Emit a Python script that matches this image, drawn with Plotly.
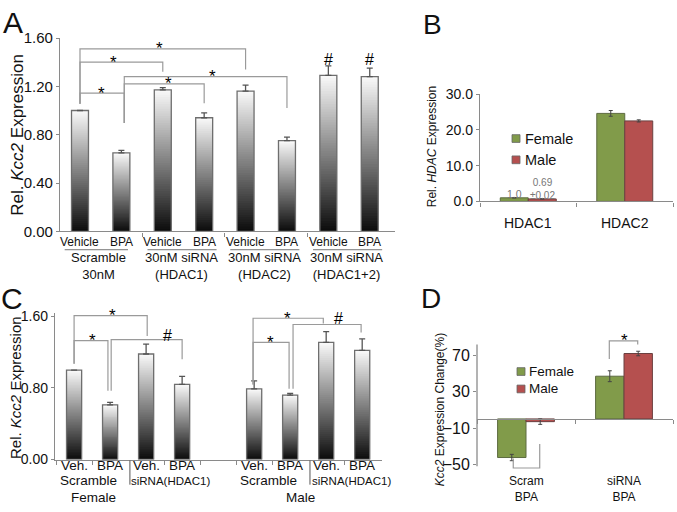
import plotly.graph_objects as go

W, H = 677, 512

# ---- panel A : Kcc2 expression after siRNA knock-down
a_labels = ["Vehicle", "BPA"] * 4
a_groups = [("Scramble", "30nM"), ("30nM siRNA", "(HDAC1)"),
            ("30nM siRNA", "(HDAC2)"), ("30nM siRNA", "(HDAC1+2)")]
a_values = [1.00, 0.65, 1.17, 0.94, 1.16, 0.75, 1.29, 1.28]
a_errors = [0.00, 0.02, 0.02, 0.04, 0.05, 0.03, 0.08, 0.07]

# ---- panel B : HDAC expression by sex
b_genes = ["HDAC1", "HDAC2"]
b_female = [1.0, 24.6]
b_male = [0.69, 22.5]
b_female_err = [0.05, 0.8]
b_male_err = [0.02, 0.3]

# ---- panel C : Kcc2 expression by sex
c_positions = [0, 1, 2, 3, 5, 6, 7, 8]
c_labels = ["Veh.", "BPA"] * 4
c_values = [1.00, 0.61, 1.18, 0.84, 0.79, 0.72, 1.31, 1.22]
c_errors = [0.00, 0.03, 0.11, 0.09, 0.09, 0.02, 0.12, 0.13]

# ---- panel D : Kcc2 expression change
d_groups = [("Scram", "BPA"), ("siRNA", "BPA")]
d_female = [-42.5, 47.0]
d_male = [-3.0, 72.0]
d_female_err = [3.5, 6.0]
d_male_err = [3.0, 2.5]

GREEN = "#819b4a"
RED = "#b5504f"
AXIS = "#8a8a8a"
BRACKET = "#9a9a9a"
FONT = "Liberation Sans, Arial, sans-serif"


def px(x):
    return x / W


def py(y):
    return 1 - y / H


fig = go.Figure()


def gradient_bars(xs, values, errors, xa, ya, width, n=60):
    # white at the top, black at the bottom of every bar
    for k in range(n):
        shade = int(12 + 238 * (k + 0.5) / n)
        step = 2 if k < n - 1 else 1  # overlap the next slice to avoid seams
        fig.add_trace(go.Bar(
            x=xs, y=[v / n * step for v in values],
            base=[v * k / n for v in values], width=width,
            marker=dict(color=f"rgb({shade},{shade},{shade})", line_width=0),
            xaxis=xa, yaxis=ya, showlegend=False, hoverinfo="skip"))
    fig.add_trace(go.Bar(
        x=xs, y=values, width=width,
        marker=dict(color="rgba(0,0,0,0)", line=dict(color="#6e6e6e", width=1.3)),
        error_y=dict(type="data", array=errors, symmetric=False,
                     arrayminus=[0] * len(errors), color="#555", thickness=1.3, width=3),
        xaxis=xa, yaxis=ya, showlegend=False, hoverinfo="skip"))


def bracket(xr, yr, x0, x1, ytop, y0, y1):
    fig.add_shape(type="path", xref=xr, yref=yr,
                  path=f"M {x0},{y0} L {x0},{ytop} L {x1},{ytop} L {x1},{y1}",
                  line=dict(color=BRACKET, width=1.2))


def text(x, y, s, size, xref="paper", yref="paper", color="#111", **kw):
    kw.setdefault("xanchor", "center")
    kw.setdefault("yanchor", "middle")
    fig.add_annotation(x=x, y=y, xref=xref, yref=yref, text=s, showarrow=False,
                       font=dict(size=size, color=color, family=FONT), **kw)


def star(x, y, xr, yr, s="*", size=17):
    text(x, y, s, size, xref=xr, yref=yr, color="#000")


# ================= A =================
gradient_bars(list(range(len(a_values))), a_values, a_errors, "x", "y", 0.41)
for i, lab in enumerate(a_labels):
    text(i, py(241), lab, 12, xref="x")
for g, (l1, l2) in enumerate(a_groups):
    text(2 * g + 0.45, py(266), f"{l1}<br>{l2}", 13, xref="x")
    fig.add_shape(type="line", xref="x", yref="paper", x0=2 * g - 0.37,
                  x1=2 * g + (1.16 if g == 0 else 1.3), y0=py(249), y1=py(249),
                  line=dict(color="#777", width=1))
bracket("x", "y", 0, 1.07, 1.144, 1.056, 0.896)
bracket("x", "y", 0, 2, 1.40, 1.056, 1.32)
bracket("x", "y", 0, 4, 1.51, 1.056, 1.34)
bracket("x", "y", 1.07, 3, 1.22, 0.896, 1.06)
bracket("x", "y", 1.07, 5, 1.28, 0.896, 1.02)
star(0.53, 1.144, "x", "y")
star(0.82, 1.40, "x", "y")
star(1.93, 1.51, "x", "y")
star(2.15, 1.22, "x", "y")
star(3.19, 1.28, "x", "y")
star(6, 1.42, "x", "y", "#", 16)
star(7, 1.42, "x", "y", "#", 16)
text(px(18), py(130), "Rel. <i>Kcc2</i> Expression", 17, textangle=-90)
text(px(13), py(14), "A", 30)

# ================= B =================
fig.add_trace(go.Bar(x=[0, 1], y=b_female, width=0.29, offset=-0.29,
                     marker=dict(color=GREEN, line=dict(color="#5d6b40", width=1)),
                     error_y=dict(type="data", array=b_female_err, color="#444", thickness=1, width=2),
                     xaxis="x2", yaxis="y2", showlegend=False))
fig.add_trace(go.Bar(x=[0, 1], y=b_male, width=0.29, offset=0,
                     marker=dict(color=RED, line=dict(color="#6b4040", width=1)),
                     error_y=dict(type="data", array=b_male_err, color="#444", thickness=1, width=2),
                     xaxis="x2", yaxis="y2", showlegend=False))
for i, g in enumerate(b_genes):
    text(i, py(221), g, 14, xref="x2")
text(-0.145, py(191), f"{b_female[0]:.1f}", 10.5, xref="x2", color="#777")
text(0.145, py(186), f"{b_male[0]:.2f}<br>±{b_male_err[0]:.2f}", 10, xref="x2", color="#777")
for j, (name, col) in enumerate([("Female", GREEN), ("Male", RED)]):
    yc = 134 + 22 * j
    fig.add_shape(type="rect", xref="paper", yref="paper", x0=px(512), x1=px(520),
                  y0=py(yc - 4), y1=py(yc + 4), fillcolor=col, line=dict(color="#666", width=0.8))
    text(px(523), py(yc), name, 14.5, xanchor="left")
text(px(432), py(143), "Rel. <i>HDAC</i> Expression", 12, textangle=-90)
text(px(432), py(16), "B", 28)

# ================= C =================
gradient_bars(c_positions, c_values, c_errors, "x3", "y3", 0.42)
for p, lab in zip(c_positions, c_labels):
    text(p, py(472), lab, 13.5, xref="x3")
for off, sex, sx in [(0, "Female", 0.53), (5, "Male", 6.28)]:
    text(off + 0.39, py(488), "Scramble", 13.5, xref="x3")
    text(off + 2.69, py(488), "siRNA(HDAC1)", 11.5, xref="x3")
    text(sx, py(505), sex, 13.5, xref="x3")
    fig.add_shape(type="line", xref="x3", yref="paper", x0=off + 1.55, x1=off + 1.55,
                  y0=py(467), y1=py(492), line=dict(color="#555", width=1))
bracket("x3", "y3", 0, 2.03, 1.61, 1.07, 1.38)
bracket("x3", "y3", 0, 0.94, 1.33, 1.07, 0.77)
bracket("x3", "y3", 1.03, 3.0, 1.34, 0.77, 1.12)
bracket("x3", "y3", 4.97, 6.92, 1.58, 0.84, 1.52)
bracket("x3", "y3", 4.97, 5.97, 1.31, 0.84, 0.79)
bracket("x3", "y3", 6.08, 7.97, 1.51, 0.79, 1.42)
star(1.08, 1.61, "x3", "y3")
star(0.5, 1.33, "x3", "y3")
star(2.58, 1.39, "x3", "y3", "#", 16)
star(5.92, 1.58, "x3", "y3")
star(5.44, 1.31, "x3", "y3")
star(7.33, 1.58, "x3", "y3", "#", 16)
text(px(16), py(392), "Rel. <i>Kcc2</i> Expression", 15, textangle=-90)
text(px(12), py(299), "C", 30)

# ================= D =================
fig.add_trace(go.Bar(x=[0, 1], y=d_female, width=0.29, offset=-0.29,
                     marker=dict(color=GREEN, line=dict(color="#5d6b40", width=1)),
                     error_y=dict(type="data", array=d_female_err, color="#444", thickness=1, width=2),
                     xaxis="x4", yaxis="y4", showlegend=False))
fig.add_trace(go.Bar(x=[0, 1], y=d_male, width=0.29, offset=0,
                     marker=dict(color=RED, line=dict(color="#6b4040", width=1)),
                     error_y=dict(type="data", array=d_male_err, color="#444", thickness=1, width=2),
                     xaxis="x4", yaxis="y4", showlegend=False))
for i, (l1, l2) in enumerate(d_groups):
    text(i, py(496), f"{l1}<br>{l2}", 12, xref="x4")
for j, (name, col) in enumerate([("Female", GREEN), ("Male", RED)]):
    yc = 375 + 18 * j
    fig.add_shape(type="rect", xref="paper", yref="paper", x0=px(517), x1=px(525),
                  y0=py(yc - 4), y1=py(yc + 4), fillcolor=col, line=dict(color="#666", width=0.8))
    text(px(527), py(yc), name, 13.5, xanchor="left")
fig.add_shape(type="line", xref="x4 domain", yref="y4", x0=0, x1=0, y0=-52, y1=82,
              line=dict(color=AXIS, width=1.3))
bracket("x4", "y4", 0.85, 1.14, 86, 66, 82)
bracket("x4", "y4", -0.13, 0.14, -54, -43.6, -27.7)
star(1.0, 86, "x4", "y4")
star(0.0, -65, "x4", "y4")
text(px(440), py(415), "<i>Kcc2</i> Expression Change(%)", 12, textangle=-90)
text(px(431), py(299), "D", 28)

# ================= axes =================
tickfont = dict(size=15, color="#111", family=FONT)
common_y = dict(showgrid=False, zeroline=False, showline=True, linecolor=AXIS, linewidth=1.3,
                ticks="outside", ticklen=3, tickcolor=AXIS, tickfont=tickfont)
common_x = dict(showgrid=False, zeroline=False, showline=True, linecolor=AXIS, linewidth=1.3,
                ticks="outside", ticklen=4, tickcolor=AXIS, showticklabels=False)

fig.update_layout(
    width=W, height=H, margin=dict(l=0, r=0, t=0, b=0),
    paper_bgcolor="white", plot_bgcolor="white", barmode="overlay",
    font=dict(family=FONT), showlegend=False,
    xaxis=dict(common_x, domain=[px(60), px(395)], range=[-0.483, 7.61],
               tickvals=[1.5, 3.5, 5.5], anchor="y"),
    yaxis=dict(common_y, domain=[py(230), py(30)], range=[0, 1.6],
               tickvals=[0, 0.4, 0.8, 1.2, 1.6], tickformat=".2f", anchor="x"),
    xaxis2=dict(common_x, domain=[px(480), px(673)], range=[-0.5, 1.5],
                tickvals=[-0.5, 0.5, 1.5], anchor="y2"),
    yaxis2=dict(common_y, domain=[py(199), py(88)], range=[0, 30],
                tickvals=[0, 10, 20, 30], tickformat=".1f", anchor="x2",
                tickfont=dict(size=14, color="#111", family=FONT)),
    xaxis3=dict(common_x, domain=[px(55), px(382)], range=[-0.53, 8.55],
                tickvals=[-0.5, 0.5, 2.5, 3.5, 4.5, 5.5, 7.5], anchor="y3"),
    yaxis3=dict(common_y, domain=[py(466), py(314.3)], range=[0, 1.64],
                tickvals=[0, 0.8, 1.6], tickformat=".2f", anchor="x3",
                tickfont=dict(size=14, color="#111", family=FONT)),
    xaxis4=dict(common_x, domain=[px(477), px(673)], range=[-0.5, 1.5],
                tickvals=[-0.5, 0.5, 1.5], anchor="free", position=py(424)),
    yaxis4=dict(common_y, domain=[py(478.5), py(341.3)], range=[-58, 88], showline=False,
                tickvals=[-50, -10, 30, 70], anchor="x4",
                tickfont=dict(size=16, color="#111", family=FONT)),
)

fig.write_html("out.html", config={"displayModeBar": False},
               post_script="document.body.style.margin='0px';")
